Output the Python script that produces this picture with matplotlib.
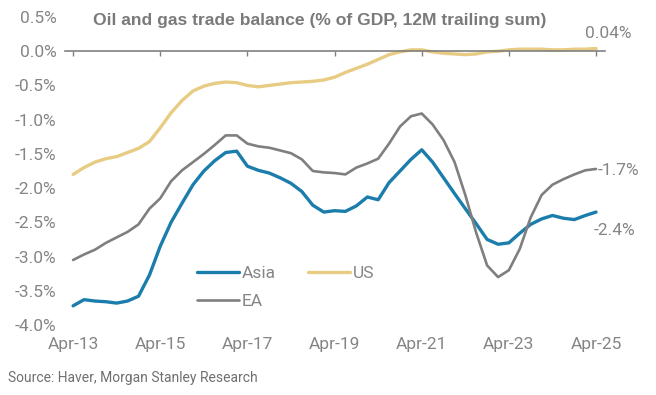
import matplotlib
matplotlib.use('Agg')
import matplotlib.pyplot as plt
import matplotlib.dates as mdates
import pandas as pd

# Quarterly readings, Apr-13 .. Apr-25 (% of GDP, 12M trailing sum)
dates = pd.date_range('2013-04-01', '2025-04-01', freq='3MS')

asia = [-3.72, -3.63, -3.65, -3.66, -3.68, -3.65, -3.58, -3.27, -2.85, -2.50,
        -2.22, -1.95, -1.75, -1.60, -1.48, -1.46, -1.68, -1.74, -1.78, -1.85,
        -1.93, -2.05, -2.25, -2.35, -2.33, -2.34, -2.26, -2.13, -2.17, -1.92,
        -1.75, -1.58, -1.44, -1.62, -1.85, -2.08, -2.30, -2.52, -2.75, -2.82,
        -2.80, -2.66, -2.53, -2.45, -2.40, -2.44, -2.46, -2.40, -2.35]

us = [-1.80, -1.70, -1.62, -1.57, -1.54, -1.48, -1.42, -1.32, -1.12, -0.90,
      -0.72, -0.58, -0.51, -0.47, -0.45, -0.46, -0.50, -0.52, -0.50, -0.48,
      -0.46, -0.45, -0.44, -0.42, -0.38, -0.31, -0.25, -0.19, -0.12, -0.05,
      -0.01, 0.02, 0.02, -0.01, -0.03, -0.04, -0.05, -0.04, -0.01, 0.00,
      0.02, 0.03, 0.03, 0.03, 0.02, 0.02, 0.03, 0.03, 0.04]

ea = [-3.05, -2.97, -2.90, -2.80, -2.72, -2.64, -2.53, -2.30, -2.15, -1.90,
      -1.74, -1.62, -1.50, -1.37, -1.23, -1.23, -1.35, -1.39, -1.41, -1.45,
      -1.49, -1.58, -1.75, -1.77, -1.78, -1.80, -1.70, -1.64, -1.57, -1.35,
      -1.10, -0.95, -0.91, -1.07, -1.30, -1.62, -2.10, -2.65, -3.13, -3.30,
      -3.20, -2.89, -2.43, -2.10, -1.95, -1.87, -1.80, -1.74, -1.72]

end_labels = {'US': '0.04%', 'EA': '-1.7%', 'Asia': '-2.4%'}
tick_dates = pd.date_range('2013-04-01', '2025-04-01', freq='24MS')

c_asia = '#1b7dab'
c_us = '#e8cc84'
c_ea = '#7f7f7f'
c_text = '#858585'
font = 'Roboto'

fig = plt.figure(figsize=(6.56, 3.95), dpi=100)
ax = fig.add_axes([65 / 656, 70 / 395, 540 / 656, 308 / 395])

ax.plot(dates, asia, color=c_asia, lw=2.4, label='Asia', solid_capstyle='round')
ax.plot(dates, ea, color=c_ea, lw=1.9, label='EA', solid_capstyle='round')
ax.plot(dates, us, color=c_us, lw=2.4, label='US', solid_capstyle='round')

ax.set_ylim(-4.0, 0.5)
ax.set_xlim(pd.Timestamp('2013-01-23'), pd.Timestamp('2025-06-15'))

# y axis: labels only
ax.set_yticks([i * 0.5 for i in range(-8, 2)])
ax.set_yticklabels(['%.1f%%' % (i * 0.5) for i in range(-8, 2)],
                   fontsize=12.5, color=c_text, family=font)
ax.tick_params(axis='y', length=0, pad=6)

# zero line carries the tick marks
for s in ['top', 'right', 'left']:
    ax.spines[s].set_visible(False)
ax.spines['bottom'].set_position(('data', 0))
ax.spines['bottom'].set_color('#808080')
ax.spines['bottom'].set_linewidth(1.2)
tick_nums = mdates.date2num(tick_dates)
ax.set_xticks(tick_dates)
ax.tick_params(axis='x', direction='out', length=3.5, width=1.0,
               color='#808080', labelbottom=False)

# tick labels at the bottom of the plot area
sec = ax.secondary_xaxis(0.0)
sec.set_xticks(tick_nums, [d.strftime('%b-%y') for d in tick_dates])
sec.tick_params(length=0, pad=9, labelsize=12.5, labelcolor=c_text)
for lbl in sec.get_xticklabels():
    lbl.set_family(font)
sec.spines['bottom'].set_visible(False)

# end-of-line labels
ax.annotate(end_labels['US'], (dates[-1], us[-1]), xytext=(9, 11),
            textcoords='offset points', ha='center', va='center',
            fontsize=12.5, color=c_text, family=font)
ax.annotate(end_labels['EA'], (dates[-1], ea[-1]), xytext=(1, -1),
            textcoords='offset points', ha='left', va='center',
            fontsize=12.5, color=c_text, family=font)
ax.annotate(end_labels['Asia'], (dates[-1], asia[-1]), xytext=(-2, -13),
            textcoords='offset points', ha='left', va='center',
            fontsize=12.5, color=c_text, family=font)

leg = ax.legend(ncol=2, frameon=False, loc='upper left',
                bbox_to_anchor=(0.232, 0.215), handlelength=2.4,
                handletextpad=0.15, columnspacing=1.9, labelspacing=0.75,
                borderaxespad=0, prop={'family': font, 'size': 12.5})
for t in leg.get_texts():
    t.set_color(c_text)

fig.text(93 / 656, 1 - 20 / 395, 'Oil and gas trade balance (% of GDP, 12M trailing sum)',
         ha='left', va='center', fontsize=12.6, fontweight='bold', color='#7a7a7a',
         family='Liberation Sans')
fig.text(8 / 656, 1 - 378 / 395, 'Source: Haver, Morgan Stanley Research',
         ha='left', va='center', fontsize=10, color='#707070', family=font)

fig.savefig('out.png', dpi=100)
